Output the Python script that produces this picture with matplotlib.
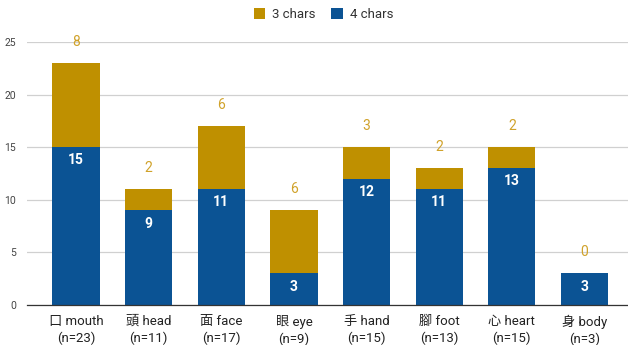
import matplotlib
matplotlib.use('Agg')
import matplotlib.pyplot as plt
import numpy as np

plt.rcParams['font.family'] = ['Roboto', 'Noto Sans CJK TC', 'DejaVu Sans']

# data
categories = ['口 mouth', '頭 head', '面 face', '眼 eye', '手 hand', '腳 foot', '心 heart', '身 body']
totals = [23, 11, 17, 9, 15, 13, 15, 3]
four_chars = [15, 9, 11, 3, 12, 11, 13, 3]
three_chars = [8, 2, 6, 6, 3, 2, 2, 0]

blue = '#0b5394'
gold = '#bf9000'
gold_text = '#d0a22a'

fig = plt.figure(figsize=(6.28, 3.45), dpi=100)
ax = fig.add_axes([27 / 628, 40 / 345, 1 - 27 / 628, 263 / 345])

x = np.arange(len(categories))
w = 0.65
b4 = ax.bar(x, four_chars, w, color=blue, label='4 chars', zorder=2)
b3 = ax.bar(x, three_chars, w, bottom=four_chars, color=gold, label='3 chars', zorder=2)

for xi, v in zip(x, four_chars):
    ax.annotate(str(v), (xi, v), xytext=(0, -9.5), textcoords='offset points',
                ha='center', va='center', color='white', fontsize=10, fontweight='bold')
for xi, v, t in zip(x, three_chars, four_chars):
    ax.annotate(str(v), (xi, v + t), xytext=(0, 15.5), textcoords='offset points',
                ha='center', va='center', color=gold_text, fontsize=10)

ax.set_xlim(-0.675, 7.6)
ax.set_ylim(0, 25)
ax.set_yticks([0, 5, 10, 15, 20, 25])
ax.yaxis.grid(True, color='#d0d0d0', linewidth=0.9, zorder=0)
ax.set_axisbelow(True)
for s in ['top', 'right', 'left']:
    ax.spines[s].set_visible(False)
ax.spines['bottom'].set_color('#333333')
ax.spines['bottom'].set_linewidth(0.9)
ax.tick_params(axis='y', length=0, labelsize=7.5, labelcolor='#444444', pad=8)
ax.tick_params(axis='x', length=0, labelsize=9.5, labelcolor='#222222', pad=7)

labels = ['%s\n(n=%d)' % (c, n) for c, n in zip(categories, totals)]
ax.set_xticks(x)
ax.set_xticklabels(labels, linespacing=1.35)

handles = [b3, b4]
fig.legend(handles, ['3 chars', '4 chars'], loc='upper center', bbox_to_anchor=(0.515, 1.012),
           ncol=2, frameon=False, fontsize=9.5, handlelength=0.9, handleheight=0.9,
           columnspacing=1.2, handletextpad=0.5, labelcolor='#333333')

fig.savefig('out.png', dpi=100)
